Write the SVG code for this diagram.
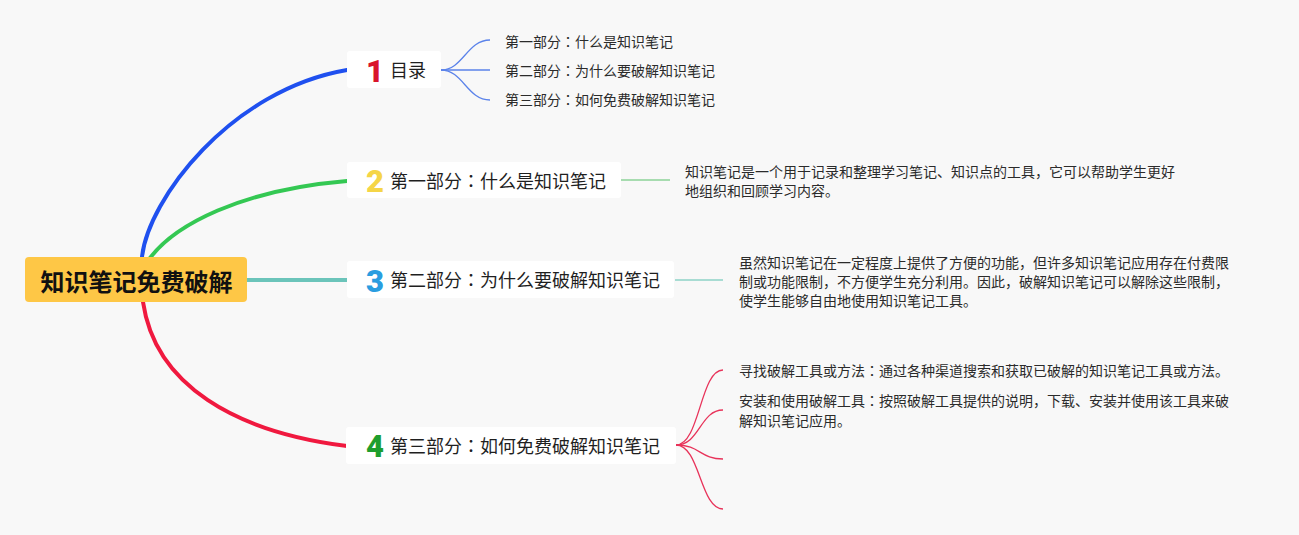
<svg xmlns="http://www.w3.org/2000/svg" width="1299" height="535" viewBox="0 0 1299 535">
<style>
text{font-family:"Noto Sans CJK SC","Noto Sans",sans-serif;}
.c{font-family:"Noto Sans CJK TC","Noto Sans CJK SC",sans-serif;}
.box{fill:#ffffff;}
.nt{font-size:18px;fill:#1f1f1f;}
.num{font-family:"Roboto","Noto Sans",sans-serif;font-size:31px;font-weight:900;text-anchor:middle;}
.st{font-size:14px;fill:#2b2b2b;}
.main{fill:none;stroke-width:4;stroke-linecap:round;}
.thin{fill:none;stroke-width:1.3;}
</style>
<rect width="1299" height="535" fill="#f8f8f8"/>
<g id="connectors">
<path class="main" stroke="#1f50ef" d="M142,257 C148,200 230,90 347,70"/>
<path class="main" stroke="#34c853" d="M150,258 C175,225 240,190 347,181"/>
<path class="main" stroke="#6bc4ba" stroke-width="3" d="M247,280 L347,280"/>
<path class="main" stroke="#f0193f" d="M143,302 C155,385 235,432 347,446"/>
<g class="thin" stroke="#5b83ea">
<path d="M441,70 C463,70 467,40 490,40"/>
<path d="M441,70 L490,70"/>
<path d="M441,70 C463,70 467,100 490,100"/>
</g>
<path fill="none" stroke="#a7dcb0" stroke-width="2" d="M621,180 L670,180"/>
<path fill="none" stroke="#a8dcd3" stroke-width="2" d="M675,280 L723,280"/>
<g class="thin" stroke="#e8335a">
<path d="M676,445 C700,445 700,370 723,370"/>
<path d="M676,445 C700,445 700,410 723,410"/>
<path d="M676,445 C700,445 700,459 723,459"/>
<path d="M676,445 C700,445 700,509 723,509"/>
</g>
</g>
<g id="root">
<rect x="25" y="257" width="222" height="45" rx="4" fill="#fec746"/>
<text x="136.5" y="291" font-size="24" font-weight="bold" fill="#111" text-anchor="middle">知识笔记免费破解</text>
</g>
<g id="node1">
<rect class="box" x="347" y="51" width="94" height="37" rx="3"/>
<text class="num" x="375" y="82" fill="#d9142b">1</text>
<text class="nt" x="390" y="77">目录</text>
</g>
<g id="node1-children">
<text class="st" x="505" y="47">第一部分<tspan class="c">：</tspan>什么是知识笔记</text>
<text class="st" x="505" y="75.5">第二部分<tspan class="c">：</tspan>为什么要破解知识笔记</text>
<text class="st" x="505" y="105">第三部分<tspan class="c">：</tspan>如何免费破解知识笔记</text>
</g>
<g id="node2">
<rect class="box" x="347" y="162" width="274" height="36" rx="3"/>
<text class="num" x="375" y="192" fill="#f5d547">2</text>
<text class="nt" x="390" y="188">第一部分<tspan class="c">：</tspan>什么是知识笔记</text>
</g>
<g id="node2-desc">
<text class="st" x="685" y="177">知识笔记是一个用于记录和整理学习笔记、知识点的工具，它可以帮助学生更好</text>
<text class="st" x="685" y="196">地组织和回顾学习内容。</text>
</g>
<g id="node3">
<rect class="box" x="347" y="261" width="327" height="37" rx="3"/>
<text class="num" x="375" y="292" fill="#2a9de0">3</text>
<text class="nt" x="390" y="287">第二部分<tspan class="c">：</tspan>为什么要破解知识笔记</text>
</g>
<g id="node3-desc">
<text class="st" x="739" y="268">虽然知识笔记在一定程度上提供了方便的功能，但许多知识笔记应用存在付费限</text>
<text class="st" x="739" y="287">制或功能限制，不方便学生充分利用。因此，破解知识笔记可以解除这些限制，</text>
<text class="st" x="739" y="306">使学生能够自由地使用知识笔记工具。</text>
</g>
<g id="node4">
<rect class="box" x="346" y="427" width="330" height="37" rx="3"/>
<text class="num" x="375" y="457" fill="#1e9e2e">4</text>
<text class="nt" x="390" y="453">第三部分<tspan class="c">：</tspan>如何免费破解知识笔记</text>
</g>
<g id="node4-children">
<text class="st" x="739" y="376">寻找破解工具或方法<tspan class="c">：</tspan>通过各种渠道搜索和获取已破解的知识笔记工具或方法。</text>
<text class="st" x="739" y="406">安装和使用破解工具<tspan class="c">：</tspan>按照破解工具提供的说明，下载、安装并使用该工具来破</text>
<text class="st" x="739" y="426">解知识笔记应用。</text>
</g>
</svg>
